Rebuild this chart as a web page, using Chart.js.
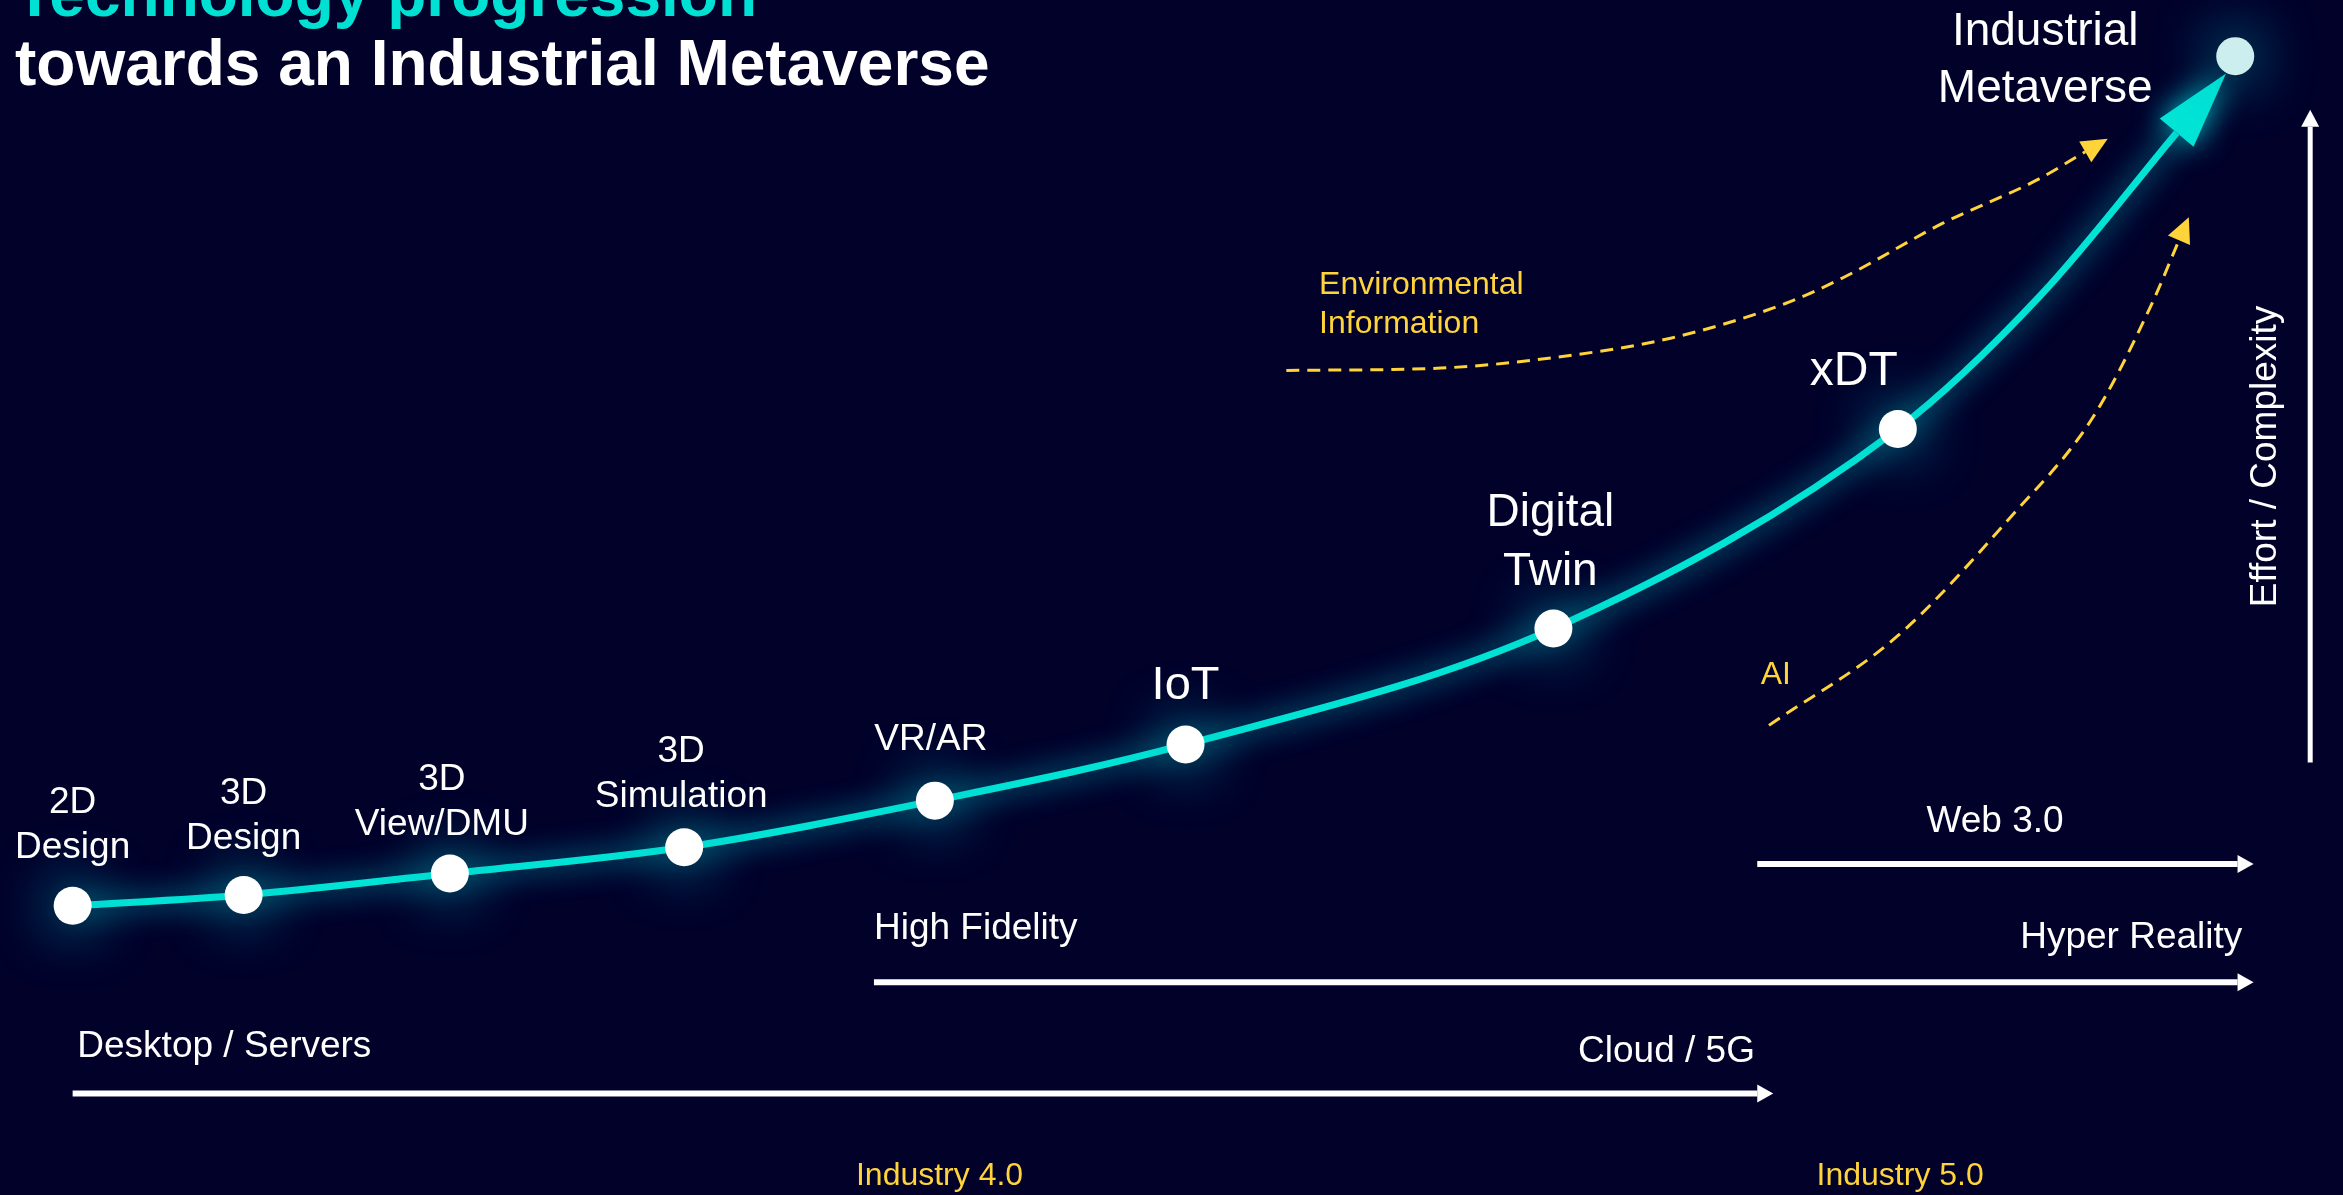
<!DOCTYPE html>
<html>
<head>
<meta charset="utf-8">
<title>Technology progression towards an Industrial Metaverse</title>
<script src="https://cdn.jsdelivr.net/npm/chart.js@4.4.1/dist/chart.umd.min.js"></script>
<style>
  html, body { margin: 0; padding: 0; background: #01012a; overflow: hidden; }
  #wrap { position: relative; width: 2343px; height: 1195px; }
  #title {
    position: absolute; left: 15px; top: -40px; z-index: 2;
    font: bold 64px "Liberation Sans", Arial, sans-serif; line-height: 69px;
    color: #fff; white-space: nowrap;
  }
  #title .lead { color: #00e0d3; }
</style>
</head>
<body>
<div id="wrap">
  <div id="title"><div class="lead">Technology progression</div><div>towards an Industrial Metaverse</div></div>
  <canvas id="roadmap"></canvas>
</div>
<script>
// both axes run 0..100: x = time / maturity, y = effort / complexity
const milestoneNames = [['2D', 'Design'], ['3D', 'Design'], ['3D', 'View/DMU'], ['3D', 'Simulation'],
  ['VR/AR'], ['IoT'], ['Digital', 'Twin'], ['xDT'], ['Industrial', 'Metaverse']];
const milestoneX = [3.1, 10.4, 19.2, 29.2, 39.9, 50.6, 66.3, 81.0, 95.4];
const milestoneY = [24.2, 25.1, 26.9, 29.1, 33.0, 37.7, 47.4, 64.1, 95.3];

// trend keeps climbing after xDT up to the arrow head
const trendTailX = [87.1, 92.9];
const trendTailY = [75.3, 88.9];

// yellow dashed drivers
const envInfoX = [54.9, 61.5, 66.4, 71.3, 76.2, 78.7, 82.9, 86.9, 89.0];
const envInfoY = [69.0, 69.2, 70.1, 71.7, 74.6, 76.8, 81.3, 84.9, 87.3];
const aiX = [75.5, 81.0, 85.8, 89.3, 91.8, 93.0];
const aiY = [39.3, 46.8, 56.7, 65.0, 74.4, 79.9];

// horizontal eras (infrastructure / fidelity / web)
const eraStart = [3.1, 37.3, 75.0];
const eraEnd = [75.0, 95.5, 95.5];
const eraLevel = [8.5, 17.8, 27.7];

// vertical axis arrow
const effortX = 98.6;
const effortRange = [36.2, 89.4];

const FONT = '"Liberation Sans", Arial, sans-serif';
const CYAN = '#00e3d5';
const YELLOW = '#ffd43a';

const toPoints = (xs, ys) => xs.map((x, i) => ({ x: x, y: ys[i] }));

// label placement for milestones (px offsets from the dot)
const labelStyle = [
  { size: 37, lh: 45, dx: 0, dy: 48 },
  { size: 37, lh: 45, dx: 0, dy: 46 },
  { size: 37, lh: 45, dx: -8, dy: 39 },
  { size: 37, lh: 45, dx: -3, dy: 40 },
  { size: 37, lh: 45, dx: -4, dy: 51 },
  { size: 47, lh: 57, dx: 0, dy: 45 },
  { size: 46, lh: 59, dx: -3, dy: 44 },
  { size: 48, lh: 57, dx: -44, dy: 44 },
  { size: 46, lh: 57, dx: -190, dy: -46 },
];

// free text, positioned in axis units
const notes = [
  { text: 'Web 3.0', x: 85.15, y: 30.4, align: 'center', size: 37, color: '#fff' },
  { text: 'Hyper Reality', x: 95.7, y: 20.7, align: 'right', size: 37, color: '#fff' },
  { text: 'High Fidelity', x: 37.3, y: 21.4, align: 'left', size: 37, color: '#fff' },
  { text: 'Desktop / Servers', x: 3.3, y: 11.55, align: 'left', size: 37, color: '#fff' },
  { text: 'Cloud / 5G', x: 74.9, y: 11.1, align: 'right', size: 37, color: '#fff' },
  { text: 'Industry 4.0', x: 40.1, y: 0.85, align: 'center', size: 32, color: YELLOW },
  { text: 'Industry 5.0', x: 81.1, y: 0.85, align: 'center', size: 32, color: YELLOW },
  { text: 'Environmental', x: 56.3, y: 75.4, align: 'left', size: 32, color: YELLOW },
  { text: 'Information', x: 56.3, y: 72.1, align: 'left', size: 32, color: YELLOW },
  { text: 'AI', x: 75.15, y: 42.8, align: 'left', size: 32, color: YELLOW },
  { text: 'Effort / Complexity', x: 97.15, y: 61.8, align: 'center', size: 37, color: '#fff', rotate: true },
];

function drawArrowHead(ctx, from, to, len, width, color) {
  const ang = Math.atan2(to.y - from.y, to.x - from.x);
  ctx.save();
  ctx.translate(to.x, to.y);
  ctx.rotate(ang);
  ctx.fillStyle = color;
  ctx.beginPath();
  ctx.moveTo(len, 0);
  ctx.lineTo(0, -width / 2);
  ctx.lineTo(0, width / 2);
  ctx.closePath();
  ctx.fill();
  ctx.restore();
}

const glowPlugin = {
  id: 'glow',
  beforeDatasetDraw(chart, args) {
    const ds = chart.data.datasets[args.index];
    if (!ds.glow) return;
    chart.ctx.save();
    chart.ctx.shadowColor = ds.glow.color;
    chart.ctx.shadowBlur = ds.glow.blur;
  },
  afterDatasetDraw(chart, args) {
    const ds = chart.data.datasets[args.index];
    const ctx = chart.ctx;
    if (ds.arrow) {
      const pts = args.meta.data;
      drawArrowHead(ctx, pts[pts.length - 2], pts[pts.length - 1], ds.arrow.len, ds.arrow.width, ds.borderColor);
    }
    if (ds.glow) ctx.restore();
  }
};

const textPlugin = {
  id: 'texts',
  afterDatasetsDraw(chart) {
    const ctx = chart.ctx;
    const xs = chart.scales.x, ys = chart.scales.y;
    ctx.save();
    ctx.fillStyle = '#fff';
    ctx.textBaseline = 'alphabetic';
    milestoneNames.forEach((lines, i) => {
      const st = labelStyle[i];
      const px = xs.getPixelForValue(milestoneX[i]) + st.dx;
      const base = ys.getPixelForValue(milestoneY[i]) - st.dy;
      ctx.font = st.size + 'px ' + FONT;
      ctx.textAlign = 'center';
      lines.forEach((line, j) => {
        ctx.fillText(line, px, base - (lines.length - 1 - j) * st.lh);
      });
    });
    notes.forEach(n => {
      const px = xs.getPixelForValue(n.x), py = ys.getPixelForValue(n.y);
      ctx.font = n.size + 'px ' + FONT;
      ctx.fillStyle = n.color;
      ctx.textAlign = n.align;
      if (n.rotate) {
        ctx.save();
        ctx.translate(px, py);
        ctx.rotate(-Math.PI / 2);
        ctx.fillText(n.text, 0, 0);
        ctx.restore();
      } else {
        ctx.fillText(n.text, px, py);
      }
    });
    ctx.restore();
  }
};

const trendPoints = toPoints(milestoneX.slice(0, 8), milestoneY.slice(0, 8))
  .concat(toPoints(trendTailX, trendTailY));

const eraSets = eraStart.map((s, i) => ({
  data: [{ x: s, y: eraLevel[i] }, { x: eraEnd[i], y: eraLevel[i] }],
  showLine: true, borderColor: '#ffffff', borderWidth: 6, pointRadius: 0,
  arrow: { len: 16, width: 18 }, order: 3, clip: false,
}));

new Chart(document.getElementById('roadmap'), {
  type: 'scatter',
  data: {
    datasets: [
      {
        data: toPoints(milestoneX, milestoneY),
        pointRadius: 19,
        pointBackgroundColor: c => c.dataIndex === milestoneX.length - 1 ? '#cdeeee' : '#ffffff',
        pointBorderWidth: 0,
        glow: { color: 'rgba(0, 185, 195, 1)', blur: 60 },
        order: 0, clip: false,
      },
      {
        data: trendPoints,
        showLine: true, borderColor: CYAN, borderWidth: 7, pointRadius: 0,
        cubicInterpolationMode: 'monotone',
        glow: { color: 'rgba(0, 200, 210, 1)', blur: 30 },
        arrow: { len: 77, width: 44 }, order: 1, clip: false,
      },
      {
        data: toPoints(envInfoX, envInfoY),
        showLine: true, borderColor: YELLOW, borderWidth: 3, borderDash: [13, 8], pointRadius: 0,
        cubicInterpolationMode: 'monotone',
        arrow: { len: 26, width: 24 }, order: 2, clip: false,
      },
      {
        data: toPoints(aiX, aiY),
        showLine: true, borderColor: YELLOW, borderWidth: 3, borderDash: [13, 8], pointRadius: 0,
        cubicInterpolationMode: 'monotone',
        arrow: { len: 25, width: 24 }, order: 2, clip: false,
      },
      {
        data: [{ x: effortX, y: effortRange[0] }, { x: effortX, y: effortRange[1] }],
        showLine: true, borderColor: '#ffffff', borderWidth: 5, pointRadius: 0,
        arrow: { len: 17, width: 18 }, order: 3, clip: false,
      },
      ...eraSets,
    ]
  },
  options: {
    responsive: true,
    maintainAspectRatio: false,
    animation: false,
    events: [],
    layout: { padding: 0, autoPadding: false },
    plugins: { legend: { display: false }, tooltip: { enabled: false } },
    scales: {
      x: { type: 'linear', min: 0, max: 100, display: false },
      y: { type: 'linear', min: 0, max: 100, display: false },
    },
  },
  plugins: [glowPlugin, textPlugin],
});
</script>
</body>
</html>
